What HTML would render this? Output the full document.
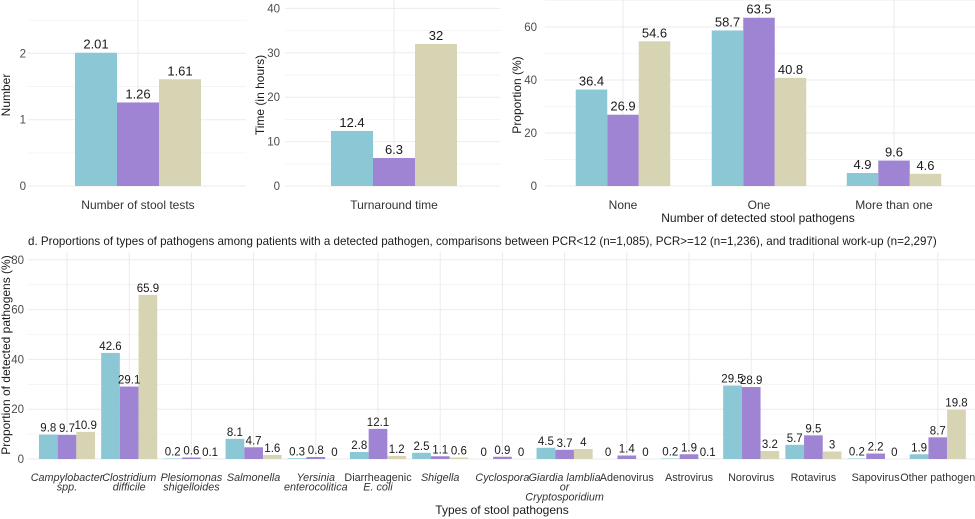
<!DOCTYPE html>
<html><head><meta charset="utf-8"><style>
body{margin:0;background:#fff;font-family:"Liberation Sans",sans-serif}
svg{display:block}
</style></head><body>
<svg id="c" width="975" height="519" xmlns="http://www.w3.org/2000/svg" font-family="Liberation Sans, sans-serif"></svg>
<script>
const colors=['#8cc7d6','#9f84d4','#d6d4b3'];
const aVals=[2.01,1.26,1.61];
const aTicks=[0,1,2];
const bVals=[12.4,6.3,32];
const bTicks=[0,10,20,30,40];
const cCats=['None','One','More than one'];
const cPcrLow=[36.4,58.7,4.9];
const cPcrHigh=[26.9,63.5,9.6];
const cTrad=[54.6,40.8,4.6];
const cTicks=[0,20,40,60];
const dCats=[['Campylobacter','spp.'],['Clostridium','difficile'],['Plesiomonas','shigelloides'],['Salmonella'],['Yersinia','enterocolitica'],['Diarrheagenic','E. coli'],['Shigella'],['Cyclospora'],['Giardia lamblia','or','Cryptosporidium'],['Adenovirus'],['Astrovirus'],['Norovirus'],['Rotavirus'],['Sapovirus'],['Other pathogen']];
const dItalic=[1,1,1,1,1,0,1,1,1,0,0,0,0,0,0];
const dPcrLow=[9.8,42.6,0.2,8.1,0.3,2.8,2.5,0,4.5,0,0.2,29.5,5.7,0.2,1.9];
const dPcrHigh=[9.7,29.1,0.6,4.7,0.8,12.1,1.1,0.9,3.7,1.4,1.9,28.9,9.5,2.2,8.7];
const dTrad=[10.9,65.9,0.1,1.6,0,1.2,0.6,0,4,0,0.1,3.2,3,0,19.8];
const dTicks=[0,20,40,60,80];

const svg=document.getElementById('c');
const NS='http://www.w3.org/2000/svg';
function el(t,a,p){const e=document.createElementNS(NS,t);for(const k in a)e.setAttribute(k,a[k]);(p||svg).appendChild(e);return e;}
function txt(s,a){const e=el('text',a);e.textContent=s;return e;}

function panel(cfg){
  const g=el('g',{});
  
  
  const y=v=>cfg.y0-(v)*cfg.ppu;
  for(let i=0;i<cfg.ticks.length;i++){
    const t=cfg.ticks[i];
    const l=el('line',{x1:cfg.x0,x2:cfg.x1,y1:y(t),y2:y(t),stroke:'#ebebeb','stroke-width':1},g);
    
    
    if(i<cfg.ticks.length-1||cfg.minorTop){const m=(cfg.ticks[1]-cfg.ticks[0])/2;
      el('line',{x1:cfg.x0,x2:cfg.x1,y1:y(t+m),y2:y(t+m),stroke:'#f3f3f3','stroke-width':0.8},g);}
    const tl=txt(String(t),{x:cfg.tx,y:y(t)+4,'font-size':cfg.tfs||11.5,fill:'#4d4d4d','text-anchor':'end'});
    
    
  }
  cfg.centers.forEach(cx=>el('line',{x1:cx,x2:cx,y1:cfg.top,y2:cfg.y0,stroke:'#ebebeb'},g));
  cfg.series.forEach((vals,s)=>{
    vals.forEach((v,i)=>{
      const x=cfg.centers[i]+(s-1.5)*cfg.bw;
      const r=el('rect',{x:x,y:y(v),width:cfg.bw,height:v*cfg.ppu,fill:colors[s]},g);
      
      
      const lb=txt(String(v),{x:x+cfg.bw/2,y:y(v)-cfg.lo,'font-size':cfg.fs,fill:'#1a1a1a','text-anchor':'middle'});
      
      
    });
  });
  const yt=txt(cfg.ytitle,{x:0,y:0,'font-size':cfg.yfs||12,fill:'#1a1a1a','text-anchor':'middle',transform:`translate(${cfg.ytx},${cfg.ytc}) rotate(-90)`});
  
  
}
panel({name:'panel-stool-tests',x0:28,x1:246,y0:186,ppu:66.3,top:0,ticks:aTicks,minorTop:true,tx:26,centers:[138],bw:42,series:[[aVals[0]],[aVals[1]],[aVals[2]]],fs:13,lo:4,ytitle:'Number',ytx:10,ytc:95});
panel({name:'panel-turnaround',x0:285,x1:500,y0:186,ppu:4.44,top:0,ticks:bTicks,tx:280,centers:[394],bw:42,series:[[bVals[0]],[bVals[1]],[bVals[2]]],fs:13,lo:4,ytitle:'Time (in hours)',ytx:264,ytc:95});
panel({name:'panel-detected-count',x0:545,x1:975,y0:186,ppu:2.65,top:0,ticks:cTicks,minorTop:true,tx:537,centers:[623,759,894],bw:31.5,series:[cPcrLow,cPcrHigh,cTrad],fs:13,lo:4,ytitle:'Proportion (%)',ytx:521,ytc:95});
const dCenters=dCats.map((c,i)=>67+62.2*i);
panel({name:'panel-pathogen-types',x0:28,x1:975,y0:459,ppu:2.49,top:252,ticks:dTicks,tx:24,centers:dCenters,bw:18.7,series:[dPcrLow,dPcrHigh,dTrad],fs:11.5,lo:3,ytitle:'Proportion of detected pathogens (%)',ytx:10,ytc:355});

function lab(s,x,y,fs,name,extra){const t=txt(s,Object.assign({x:x,y:y,'font-size':fs,fill:'#333','text-anchor':'middle'},extra||{}));return t;}
lab('Number of stool tests',138,209,12,'x-tick-label');
lab('Turnaround time',394,209,12,'x-tick-label');
cCats.forEach((c,i)=>lab(c,[623,759,894][i],209,12,'x-tick-label'));
lab('Number of detected stool pathogens',758,222,12,'x-axis-title',{fill:'#1a1a1a'});
lab('d. Proportions of types of pathogens among patients with a detected pathogen, comparisons between PCR<12 (n=1,085), PCR>=12 (n=1,236), and traditional work-up (n=2,297)',28,245,11.6,'panel-title',{'text-anchor':'start',fill:'#1a1a1a'});
dCats.forEach((c,i)=>c.forEach((line,j)=>{
  const it=dItalic[i]&&!(i==5&&j==0)&&!(i==8&&j==1)||(i==5&&j==1)||(i==8&&j==1);
  lab(line,dCenters[i],481+j*9.7,10.8,'x-tick-label',it?{'font-style':'italic'}:{});
}));
lab('Types of stool pathogens',502,514,12,'x-axis-title',{fill:'#1a1a1a'});
</script>
</body></html>
